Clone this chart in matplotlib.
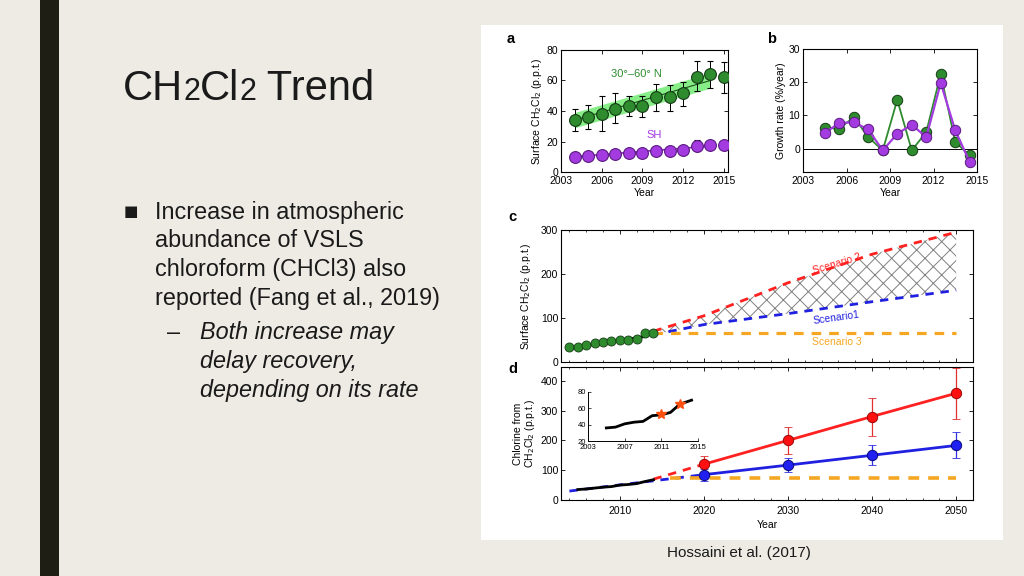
import numpy as np
import matplotlib
matplotlib.use("Agg")
import matplotlib.pyplot as plt
from matplotlib.patches import Rectangle
from matplotlib.ticker import MultipleLocator

plt.rcParams['font.family'] = ['Liberation Sans', 'DejaVu Sans']
plt.rcParams['hatch.color'] = '#808080'
plt.rcParams['hatch.linewidth'] = 0.7

# ---------------- data ----------------
years_a = [2004, 2005, 2006, 2007, 2008, 2009, 2010, 2011, 2012, 2013, 2014, 2015]
nh_vals = [34, 36, 38, 41.5, 43, 43, 49, 49, 51.5, 62.5, 64, 62.5]
nh_lo = [27, 28, 27, 32, 37, 36, 40, 40, 43, 53, 55, 52]
nh_hi = [41, 44, 50, 52, 50, 50, 58, 57, 59, 73, 73, 72]
sh_vals = [10, 10.5, 11, 12, 12.5, 12.5, 13.5, 14, 14.5, 17, 18, 18]
sh_lo = [9, 9.5, 10, 11, 11.5, 11.5, 12.5, 13, 13.5, 13.5, 16.5, 16.5]
sh_hi = [11, 11.5, 12, 13, 13.5, 13.5, 14.5, 15, 15.5, 21, 19.5, 19.5]
fit_years = [2004, 2014]
nh_fit = [34, 60]
sh_fit = [10, 17]
band_half = 5

years_b = [2004.5, 2005.5, 2006.5, 2007.5, 2008.5, 2009.5, 2010.5, 2011.5, 2012.5, 2013.5, 2014.5]
nh_growth = [6.3, 6, 9.5, 3.5, -0.5, 14.7, -0.5, 5, 22.5, 2, -2]
sh_growth = [4.8, 7.7, 8, 5.8, -0.5, 4.5, 7.2, 3.5, 19.8, 5.5, -4]

years_c = [2004, 2005, 2006, 2007, 2008, 2009, 2010, 2011, 2012, 2013, 2014]
surf_c = [33, 35, 39, 42.5, 45.5, 47, 51, 50, 53, 65, 66]
fit_c_years = [2004, 2013]
fit_c_vals = [31, 58]
scen_years = [2014, 2020, 2030, 2040, 2050]
scen2 = [70, 105, 180, 245, 295]
scen1 = [62, 85, 110, 137, 163]
scen3_years = [2014, 2050]
scen3 = [67, 67]

years_d = [2020, 2030, 2040, 2050]
red_d = [120, 200, 280, 358]
red_lo = [95, 153, 215, 272]
red_hi = [147, 246, 343, 442]
blue_d = [85, 117, 150, 183]
blue_lo = [65, 93, 117, 140]
blue_hi = [103, 140, 185, 227]
red_dash_years = [2014, 2020]
red_dash = [70, 120]
blue_dash_years = [2004, 2020]
blue_dash = [30, 85]
orange_years = [2016, 2050]
orange_d = [75, 75]
obs_years = [2005, 2006, 2007, 2008, 2009, 2010, 2011, 2012, 2013, 2014]
obs_cl = [35, 37, 40, 43, 45, 50, 52, 55, 62, 68]

inset_years = [2005, 2006, 2007, 2008, 2009, 2010, 2011, 2012, 2013, 2014.3]
inset_vals = [36, 37, 41, 43, 44, 51, 52, 55, 65, 70]
star_years = [2011, 2013]
star_vals = [52.5, 65]

# ---------------- layout ----------------
W, H = 1024, 576
BG = '#EDEBE4'
fig = plt.figure(figsize=(W / 100, H / 100), dpi=100, facecolor=BG)

def rect(l, t, r, b):
    return [l / W, 1 - b / H, (r - l) / W, (b - t) / H]

# decorative bar and white figure panel
fig.patches.append(Rectangle((40 / W, 0), 19 / W, 1, transform=fig.transFigure,
                             facecolor='#1E1E14', edgecolor='none', zorder=-10))
fig.patches.append(Rectangle((481 / W, 1 - 540 / H), 522 / W, 515 / H, transform=fig.transFigure,
                             facecolor='white', edgecolor='none', zorder=-10))

# slide title with smaller "2"s
t_parts = [('CH', 30), ('2', 22), ('Cl', 30), ('2', 22), (' Trend', 30)]
renderer = fig.canvas.get_renderer()
x = 123
for s, fs in t_parts:
    tt = fig.text(x / W, 1 - 100 / H, s, fontsize=fs, va='baseline', ha='left', color='#1a1a1a')
    bb = tt.get_window_extent(renderer=renderer)
    x += bb.width

fig.text(131 / W, 1 - 212 / H, '■', fontsize=11, va='center', ha='center', color='#1a1a1a',
         family=['DejaVu Sans'])
body = ['Increase in atmospheric', 'abundance of VSLS', 'chloroform (CHCl3) also',
        'reported (Fang et al., 2019)']
for i, line in enumerate(body):
    fig.text(155 / W, 1 - (212 + 28.7 * i) / H, line, fontsize=16.8, va='center', ha='left',
             color='#1a1a1a')
fig.text(174 / W, 1 - 333 / H, '–', fontsize=16.8, va='center', ha='center', color='#1a1a1a')
sub = ['Both increase may', 'delay recovery,', 'depending on its rate']
for i, line in enumerate(sub):
    fig.text(200 / W, 1 - (333 + 28.7 * i) / H, line, fontsize=16.8, va='center', ha='left',
             style='italic', color='#1a1a1a')
fig.text(739 / W, 1 - 553 / H, 'Hossaini et al. (2017)', fontsize=11, va='center', ha='center',
         color='#1a1a1a')

FS = 7.5
GREEN = '#2E8B2E'
PURPLE = '#A43BE0'

def style(ax):
    ax.tick_params(direction='in', top=True, right=True, labelsize=FS, length=3, width=0.6, pad=2)
    for sp in ax.spines.values():
        sp.set_linewidth(0.8)

# ---------------- panel a ----------------
ax = fig.add_axes(rect(561, 50, 728, 172))
style(ax)
ax.tick_params(axis='x', pad=3)
ax.fill_between(fit_years, [v - band_half for v in nh_fit], [v + band_half for v in nh_fit],
                color='#72EC72', alpha=0.85, lw=0, zorder=1)
ax.plot(fit_years, nh_fit, color='#1f4f1f', lw=0.8, zorder=2)
ax.plot(fit_years, sh_fit, color='#8a2ab8', lw=1.2, zorder=2)
ax.errorbar(years_a, nh_vals, yerr=[np.subtract(nh_vals, nh_lo), np.subtract(nh_hi, nh_vals)],
            fmt='o', ms=8.5, mfc=GREEN, mec='#153d15', mew=0.8, ecolor='black', elinewidth=0.7,
            capsize=2, capthick=0.7, zorder=3)
ax.errorbar(years_a, sh_vals, yerr=[np.subtract(sh_vals, sh_lo), np.subtract(sh_hi, sh_vals)],
            fmt='o', ms=8.5, mfc=PURPLE, mec='#5a1a80', mew=0.8, ecolor='black', elinewidth=0.7,
            capsize=2, capthick=0.7, zorder=3)
ax.set_xlim(2003, 2015.3)
ax.set_ylim(0, 80)
ax.set_xticks([2003, 2006, 2009, 2012, 2015])
ax.set_yticks([0, 20, 40, 60, 80])
ax.text(2006.7, 64, '30°–60° N', color=GREEN, fontsize=8, ha='left', va='center')
ax.text(2009.3, 24, 'SH', color=PURPLE, fontsize=8, ha='left', va='center')
ax.set_ylabel('Surface CH$_2$Cl$_2$ (p.p.t.)', fontsize=FS, labelpad=2)
ax.set_xlabel('Year', fontsize=FS, labelpad=1)
fig.text(507 / W, 1 - 39 / H, 'a', fontsize=10.5, fontweight='bold', va='center')

# ---------------- panel b ----------------
ax = fig.add_axes(rect(803, 49, 977, 172))
style(ax)
ax.tick_params(axis='x', pad=3)
ax.axhline(0, color='black', lw=0.7, zorder=1)
ax.plot(years_b, nh_growth, '-o', color=GREEN, lw=1.3, ms=7.5, mfc=GREEN, mec='#153d15', mew=0.7,
        zorder=2)
ax.plot(years_b, sh_growth, '-o', color=PURPLE, lw=1.6, ms=7.5, mfc=PURPLE, mec='#5a1a80', mew=0.7,
        zorder=3)
ax.set_xlim(2003, 2015)
ax.set_ylim(-7, 30)
ax.set_xticks([2003, 2006, 2009, 2012, 2015])
ax.set_yticks([0, 10, 20, 30])
ax.set_ylabel('Growth rate (%/year)', fontsize=FS, labelpad=2)
ax.set_xlabel('Year', fontsize=FS, labelpad=1)
fig.text(767 / W, 1 - 39 / H, 'b', fontsize=10.5, fontweight='bold', va='center')

# ---------------- panel c ----------------
ax = fig.add_axes(rect(561, 230, 973, 362))
style(ax)
ax.fill_between(scen_years, scen1, scen2, facecolor='none', hatch='xx',
                edgecolor='#808080', lw=0, zorder=1)
ax.plot(scen_years, scen2, '--', color='#FF2020', lw=2, dashes=(3, 2.5), zorder=2)
ax.plot(scen_years, scen1, '--', color='#2020E0', lw=2, dashes=(3, 2.5), zorder=2)
ax.plot(scen3_years, scen3, '--', color='#F5A623', lw=2.3, dashes=(3, 2.5), zorder=2)
ax.plot(fit_c_years, fit_c_vals, color='black', lw=2, zorder=3)
ax.plot(years_c, surf_c, 'o', ms=6.5, mfc=GREEN, mec='#153d15', mew=0.6, zorder=4)
ax.set_xlim(2003, 2052)
ax.set_ylim(0, 300)
ax.set_xticks([2010, 2020, 2030, 2040, 2050])
ax.xaxis.set_minor_locator(MultipleLocator(2))
ax.tick_params(which='minor', direction='in', top=True, length=1.5, width=0.5)
ax.set_xticklabels([])
ax.set_yticks([0, 100, 200, 300])
ax.text(2035.8, 222, 'Scenario 2', color='#FF2020', fontsize=7.5, rotation=17, ha='center',
        va='center')
ax.text(2035.8, 101, 'Scenario1', color='#2020E0', fontsize=7.5, rotation=8, ha='center',
        va='center')
ax.text(2035.8, 45, 'Scenario 3', color='#F5A623', fontsize=7.5, ha='center', va='center')
ax.set_ylabel('Surface CH$_2$Cl$_2$ (p.p.t.)', fontsize=FS, labelpad=6)
fig.text(508 / W, 1 - 217 / H, 'c', fontsize=10.5, fontweight='bold', va='center')

# ---------------- panel d ----------------
ax = fig.add_axes(rect(561, 367, 973, 500))
style(ax)
ax.plot(blue_dash_years, blue_dash, '--', color='#2020E0', lw=2, dashes=(3, 2.5), zorder=2)
ax.plot(red_dash_years, red_dash, '--', color='#FF2020', lw=2, dashes=(3, 2.5), zorder=2)
ax.plot(orange_years, orange_d, '--', color='#F5A623', lw=2.6, dashes=(3, 2.5), zorder=2)
ax.plot(obs_years, obs_cl, color='black', lw=2, zorder=3)
ax.errorbar(years_d, red_d, yerr=[np.subtract(red_d, red_lo), np.subtract(red_hi, red_d)],
            fmt='-o', color='#FF2020', lw=2, ms=7.5, mfc='#FF1010', mec='#8a0000', mew=0.6,
            ecolor='#E03030', elinewidth=0.9, capsize=3, capthick=0.9, zorder=4)
ax.errorbar(years_d, blue_d, yerr=[np.subtract(blue_d, blue_lo), np.subtract(blue_hi, blue_d)],
            fmt='-o', color='#2020E0', lw=2, ms=7.5, mfc='#2020F0', mec='#00006a', mew=0.6,
            ecolor='#3030E0', elinewidth=0.9, capsize=3, capthick=0.9, zorder=4)
ax.set_xlim(2003, 2052)
ax.set_ylim(0, 446)
ax.set_xticks([2010, 2020, 2030, 2040, 2050])
ax.xaxis.set_minor_locator(MultipleLocator(2))
ax.tick_params(which='minor', direction='in', top=True, bottom=True, length=1.5, width=0.5)
ax.tick_params(axis='x', pad=4)
ax.set_yticks([0, 100, 200, 300, 400])
ax.set_ylabel('Chlorine from\nCH$_2$Cl$_2$ (p.p.t.)', fontsize=FS, labelpad=3, linespacing=1.0)
ax.set_xlabel('Year', fontsize=FS, labelpad=3)
fig.text(508 / W, 1 - 369 / H, 'd', fontsize=10.5, fontweight='bold', va='center')

# inset
axi = fig.add_axes(rect(588, 392, 698, 441))
axi.set_facecolor('white')
axi.plot(inset_years, inset_vals, color='black', lw=2)
axi.plot(star_years, star_vals, '*', ms=7, color='#FF5010', zorder=3)
axi.set_xlim(2003, 2015)
axi.set_ylim(20, 80)
axi.set_xticks([2003, 2007, 2011, 2015])
axi.set_yticks([20, 40, 60, 80])
axi.spines['top'].set_visible(False)
axi.spines['right'].set_visible(False)
axi.tick_params(direction='in', labelsize=5.5, length=2, width=0.5, pad=1.5)
axi.tick_params(axis='x', pad=2.5)
for sp in axi.spines.values():
    sp.set_linewidth(0.7)

fig.savefig('out.png', dpi=100, facecolor=BG)
